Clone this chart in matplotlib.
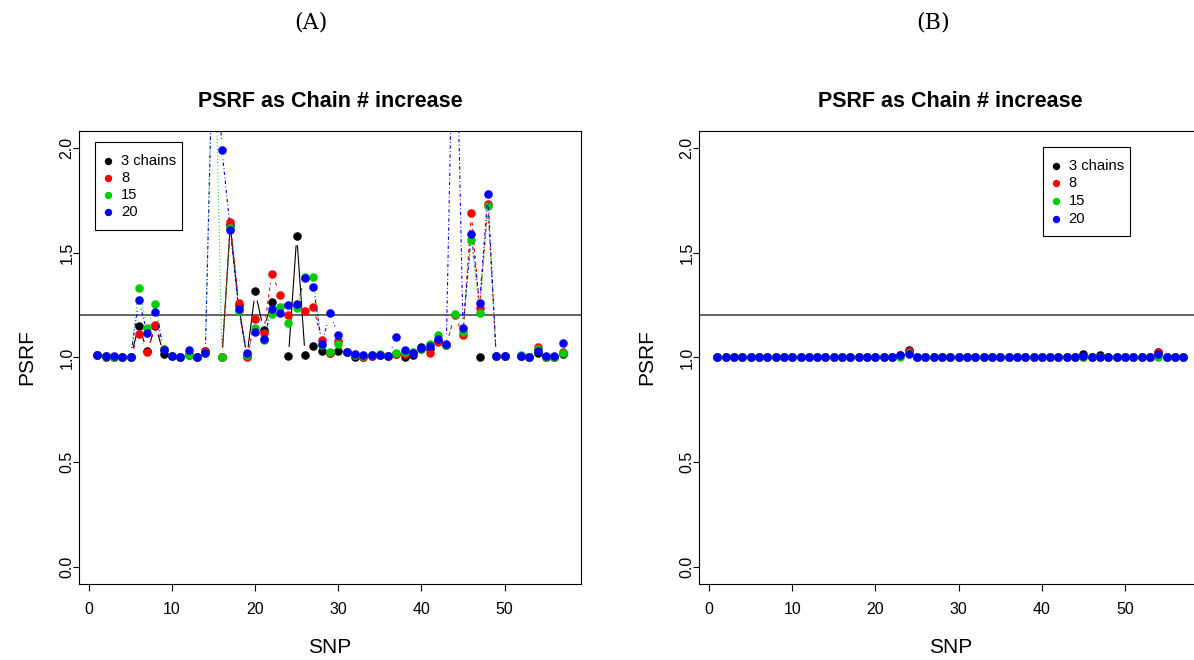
import numpy as np
import matplotlib
matplotlib.use("Agg")
import matplotlib.pyplot as plt
from matplotlib.patches import Rectangle
from matplotlib.lines import Line2D

nan = np.nan
snp = np.arange(1, 58)

# Panel (A): PSRF per SNP for 3, 8, 15, 20 chains
a_3 = [1.01, 1.0, 1.0, 1.0, 1.0, 1.15, 1.03, 1.15, 1.015, 1.005,
       1.0, 1.01, 1.0, 1.03, nan, 1.0, 1.63, 1.25, 1.005, 1.315,
       1.13, 1.265, nan, 1.005, 1.58, 1.01, 1.055, 1.03, 1.02, 1.03,
       1.025, 1.0, 1.0, 1.005, 1.01, 1.005, 1.015, 1.0, 1.01, 1.05,
       1.04, 1.08, 1.06, nan, nan, nan, 1.0, nan, 1.005, 1.005,
       nan, 1.005, 1.0, 1.02, 1.0, 1.0, 1.015]
a_8 = [1.01, 1.005, 1.0, 1.0, 1.0, 1.11, 1.025, 1.155, 1.04, 1.005,
       1.0, 1.015, 1.0, 1.03, nan, 1.0, 1.645, 1.26, 1.0, 1.185,
       1.115, 1.4, 1.3, 1.2, 1.25, 1.22, 1.24, 1.085, 1.02, 1.08,
       1.025, 1.01, 1.0, 1.005, 1.01, 1.005, 1.015, 1.015, 1.02, 1.04,
       1.02, 1.075, 1.06, 1.2, 1.105, 1.69, 1.235, 1.73, 1.005, 1.005,
       nan, 1.005, 1.0, 1.05, 1.0, 1.0, 1.025]
a_15 = [1.01, 1.005, 1.0, 1.0, 1.0, 1.33, 1.14, 1.255, 1.04, 1.005,
        1.0, 1.01, 1.0, 1.02, 2.8, 1.0, 1.615, 1.22, 1.01, 1.14,
        1.085, 1.205, 1.24, 1.165, 1.235, 1.385, 1.385, 1.06, 1.025, 1.065,
        1.025, 1.01, 1.005, 1.01, 1.015, 1.005, 1.02, 1.025, 1.025, 1.04,
        1.065, 1.105, 1.06, 1.205, 1.12, 1.56, 1.21, 1.72, 1.005, 1.005,
        nan, 1.01, 1.0, 1.04, 1.0, 1.0, 1.02]
a_20 = [1.01, 1.005, 1.005, 1.0, 1.0, 1.275, 1.115, 1.215, 1.035, 1.005,
        1.0, 1.035, 1.0, 1.02, 2.7, 1.99, 1.61, 1.23, 1.02, 1.12,
        1.09, 1.23, 1.21, 1.25, 1.255, 1.38, 1.335, 1.065, 1.21, 1.105,
        1.025, 1.015, 1.01, 1.01, 1.01, 1.005, 1.095, 1.035, 1.02, 1.045,
        1.055, 1.09, 1.065, 3.05, 1.14, 1.59, 1.26, 1.78, 1.005, 1.005,
        nan, 1.005, 1.0, 1.03, 1.005, 1.005, 1.07]

# Panel (B)
b_3 = [1.0] * 57
b_3[22] = 1.01; b_3[23] = 1.035; b_3[44] = 1.015; b_3[46] = 1.01; b_3[53] = 1.025
b_8 = [1.0] * 57
b_8[22] = 1.005; b_8[23] = 1.03; b_8[53] = 1.025
b_15 = [1.0] * 57
b_15[23] = 1.02
b_20 = [1.003] * 57
b_20[22] = 1.01; b_20[23] = 1.015; b_20[44] = 1.008; b_20[53] = 1.015

series_labels = ["3 chains", "8", "15", "20"]
colors = ["black", "#FF0000", "#00CD00", "#0000FF"]
dash_styles = [None, (3.0, 3.0), (0.8, 2.2), (0.8, 2.2, 3.0, 2.2)]
xticks = [0, 10, 20, 30, 40, 50]
yticks = [0.0, 0.5, 1.0, 1.5, 2.0]
yticklabels = ["0.0", "0.5", "1.0", "1.5", "2.0"]
threshold = 1.2

W, H = 1194, 660
DPI = 100
plt.rcParams['font.family'] = ['Liberation Sans', 'DejaVu Sans']
fig = plt.figure(figsize=(W / DPI, H / DPI), dpi=DPI)


def fx(x):
    return x / W


def fy(y):
    return 1 - y / H


def px_axes(l, r, t, b):
    return fig.add_axes([l / W, 1 - b / H, (r - l) / W, (b - t) / H])


def typeb(ax, x, y, color, dashes, gap, z):
    T = ax.transData
    Ti = T.inverted()
    pts = T.transform(np.column_stack([x, y]))
    for k in range(len(x) - 1):
        p0, p1 = pts[k], pts[k + 1]
        if not (np.all(np.isfinite(p0)) and np.all(np.isfinite(p1))):
            continue
        d = np.hypot(*(p1 - p0))
        if d <= 2 * gap:
            continue
        f = gap / d
        a = p0 + f * (p1 - p0)
        b = p1 - f * (p1 - p0)
        da, db = Ti.transform(np.array([a, b]))
        kw = dict(color=color, lw=0.8, zorder=z, solid_capstyle='butt',
                  dash_capstyle='butt')
        if dashes is None:
            ax.plot([da[0], db[0]], [da[1], db[1]], ls='-', **kw)
        else:
            ax.plot([da[0], db[0]], [da[1], db[1]], dashes=dashes, **kw)


def draw_legend(l, t, w, h, first, step):
    fig.add_artist(Rectangle((fx(l), fy(t + h)), w / W, h / H, fill=True,
                             facecolor='white', edgecolor='black', lw=0.8,
                             transform=fig.transFigure, zorder=20))
    for i, (lab, c) in enumerate(zip(series_labels, colors)):
        yy = t + first + i * step
        fig.add_artist(Line2D([fx(l + 13)], [fy(yy)], marker='o', ms=4.3,
                              mfc=c, mec=c, ls='none',
                              transform=fig.transFigure, zorder=21))
        fig.text(fx(l + 26), fy(yy), lab, ha='left', va='center',
                 fontsize=10.6, zorder=21)


def panel(ax, data):
    ax.set_xlim(1 - 56 * 0.04, 57 + 56 * 0.04)
    ax.set_ylim(-0.08, 2.08)
    for i, (vals, c, ds) in enumerate(zip(data, colors, dash_styles)):
        vals = np.array(vals, dtype=float)
        typeb(ax, snp, vals, c, ds, 9.5, 2 + 2 * i)
        ax.plot(snp, vals, ls='none', marker='o', ms=5.8, mfc=c, mec=c,
                mew=0.3, zorder=3 + 2 * i)
    ax.axhline(threshold, color='#3a3a3a', lw=1.1, zorder=1)
    ax.set_xticks(xticks)
    ax.set_xticklabels([str(t) for t in xticks])
    ax.set_yticks(yticks)
    ax.set_yticklabels(yticklabels, rotation=90, va='center')
    ax.tick_params(direction='out', length=5, width=0.8, labelsize=11.5,
                   color='black')
    ax.tick_params(axis='x', pad=8)
    ax.tick_params(axis='y', length=4, pad=-1)
    for s in ax.spines.values():
        s.set_linewidth(0.8)
        s.set_color('black')
    ax.set_xlabel("SNP", fontsize=15, labelpad=15)
    ax.set_ylabel("PSRF", fontsize=15, labelpad=17)
    ax.set_title("PSRF as Chain # increase", fontsize=15.5, fontweight='bold',
                 pad=17)


axA = px_axes(78.7, 581.3, 131, 583.8)
axB = px_axes(698.7, 1201.9, 131, 583.8)
panel(axA, [a_3, a_8, a_15, a_20])
panel(axB, [b_3, b_8, b_15, b_20])
draw_legend(95, 142.3, 87, 87.5, 18.3, 17.2)
draw_legend(1042.7, 147.3, 87, 89, 18.3, 17.8)

fig.text(fx(311), fy(22), "(A)", ha='center', va='center',
         fontsize=16, family='DejaVu Serif')
fig.text(fx(933), fy(22), "(B)", ha='center', va='center',
         fontsize=16, family='DejaVu Serif')

fig.savefig("out.png", dpi=DPI)
